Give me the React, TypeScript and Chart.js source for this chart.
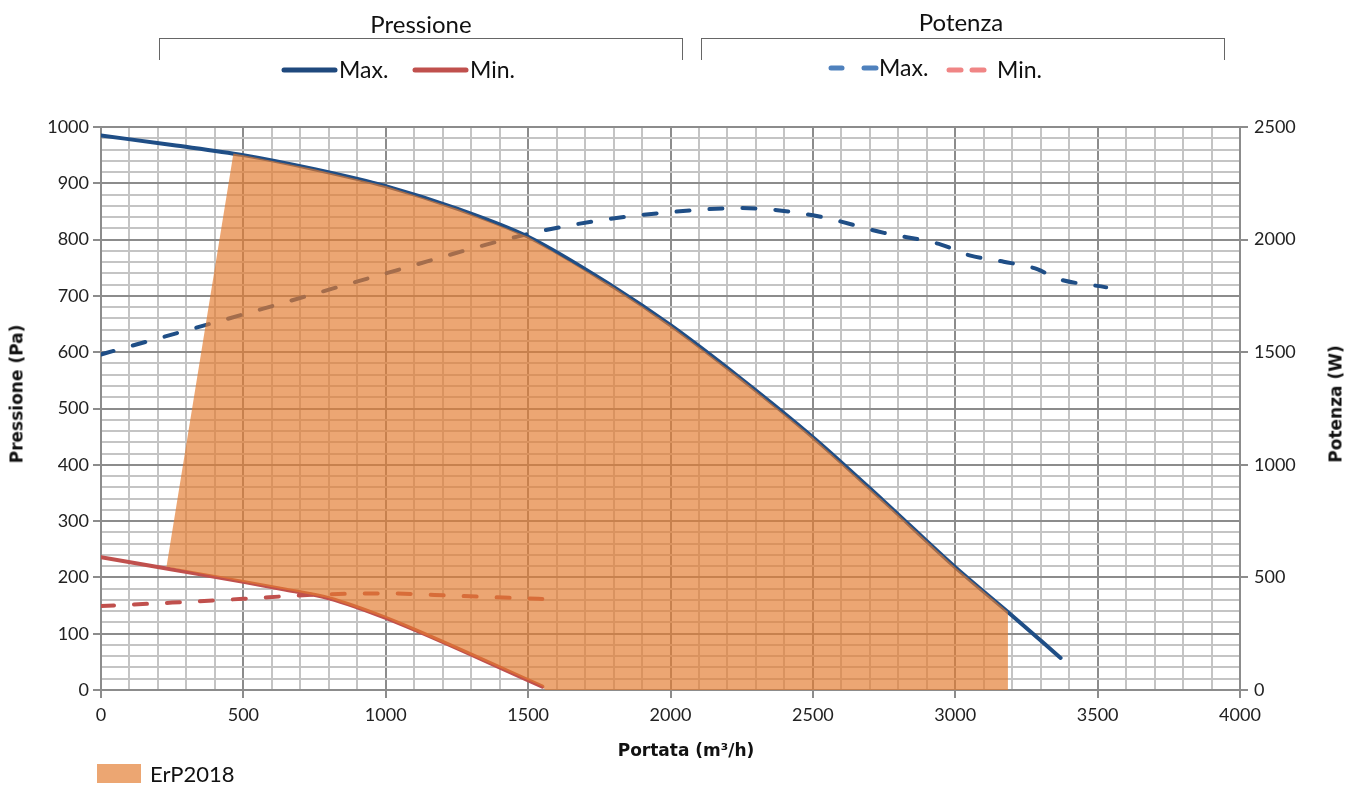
import React, { useEffect, useRef } from 'react';
import { Chart, registerables } from 'chart.js';
Chart.register(...registerables);

// ---- data ----
const flowMaxP = [0, 250, 500, 750, 1000, 1250, 1500, 1800, 2000, 2250, 2500, 2750, 3000, 3200, 3370];
const pressMax = [985, 968, 950, 925, 895, 855, 805, 716, 648, 552, 449, 335, 218, 132, 57];
const flowMinP = [0, 250, 500, 650, 800, 1000, 1550];
const pressMin = [236, 214, 192, 178, 163, 128, 6];
const flowMaxW = [0, 500, 1000, 1500, 1750, 2000, 2250, 2500, 2750, 2950, 3050, 3170, 3290, 3350, 3530];
const powerMax = [1490, 1668, 1850, 2025, 2085, 2122, 2140, 2108, 2030, 1978, 1930, 1902, 1868, 1830, 1788];
const flowMinW = [0, 250, 500, 750, 1000, 1250, 1550];
const powerMin = [373, 388, 405, 423, 429, 418, 404];
const erpFlow = [230, 465, 500, 750, 1000, 1250, 1500, 1800, 2000, 2250, 2500, 2750, 3000, 3185, 3185, 1560, 1550, 1000, 800, 650, 500, 230];
const erpPress = [219, 953, 950, 925, 895, 855, 805, 716, 648, 552, 449, 335, 218, 139, 0, 0, 6, 128, 163, 178, 192, 219];

const xTicksMajor = 500;
const yTicksMajor = 100;

const pts = (xs: number[], ys: number[]) => xs.map((x, i) => ({ x, y: ys[i] }));

const FONT = 'Lato, "DejaVu Sans", sans-serif';
const TITLE_FONT = '"DejaVu Sans", Lato, sans-serif';
const MAJOR = '#8c8c8c';
const MINOR = '#c4c4c4';
const DARKBLUE = '#1F4E86';
const RED = '#C0504D';

export default function App() {
  const ref = useRef<HTMLCanvasElement>(null);
  useEffect(() => {
    const ctx = ref.current!;
    const chart = new Chart(ctx, {
      type: 'scatter',
      data: {
        datasets: [
          {
            label: 'ErP2018',
            data: pts(erpFlow, erpPress),
            showLine: true,
            fill: 'shape',
            backgroundColor: 'rgba(227,124,48,0.68)',
            borderWidth: 0,
            borderColor: 'rgba(0,0,0,0)',
            pointRadius: 0,
            tension: 0,
            yAxisID: 'y',
          },
          {
            label: 'Pressione Max.',
            data: pts(flowMaxP, pressMax),
            showLine: true,
            borderColor: DARKBLUE,
            borderWidth: 4,
            pointRadius: 0,
            cubicInterpolationMode: 'monotone',
            borderCapStyle: 'round',
            yAxisID: 'y',
          },
          {
            label: 'Pressione Min.',
            data: pts(flowMinP, pressMin),
            showLine: true,
            borderColor: RED,
            borderWidth: 4,
            pointRadius: 0,
            cubicInterpolationMode: 'monotone',
            borderCapStyle: 'round',
            yAxisID: 'y',
          },
          {
            label: 'Potenza Max.',
            data: pts(flowMaxW, powerMax),
            showLine: true,
            borderColor: DARKBLUE,
            borderWidth: 4,
            borderDash: [13, 20],
            borderCapStyle: 'round',
            pointRadius: 0,
            cubicInterpolationMode: 'monotone',
            yAxisID: 'y1',
          },
          {
            label: 'Potenza Min.',
            data: pts(flowMinW, powerMin),
            showLine: true,
            borderColor: RED,
            borderWidth: 4,
            borderDash: [13, 20],
            borderCapStyle: 'round',
            pointRadius: 0,
            cubicInterpolationMode: 'monotone',
            yAxisID: 'y1',
          },
        ],
      },
      options: {
        responsive: false,
        animation: false,
        layout: { padding: { top: 127, left: 0, right: 0, bottom: 0 } },
        plugins: { legend: { display: false }, tooltip: { enabled: false } },
        scales: {
          x: {
            type: 'linear',
            min: 0,
            max: 4000,
            afterFit: (s: any) => { s.height = 97; },
            ticks: {
              stepSize: 100,
              autoSkip: false,
              maxRotation: 0,
              padding: 6,
              color: '#222',
              font: { family: FONT, size: 18 },
              callback: (v: any) => (Number(v) % xTicksMajor === 0 ? String(v) : ''),
            },
            grid: {
              color: (c: any) => (c.tick && c.tick.value % xTicksMajor === 0 ? MAJOR : MINOR),
              lineWidth: 2,
              tickLength: 8,
              tickColor: (c: any) => (c.tick && c.tick.value % xTicksMajor === 0 ? MAJOR : 'rgba(0,0,0,0)'),
            },
            border: { color: MAJOR, width: 2 },
          },
          y: {
            type: 'linear',
            position: 'left',
            min: 0,
            max: 1000,
            afterFit: (s: any) => { s.width = 101; },
            ticks: {
              stepSize: 20,
              autoSkip: false,
              padding: 4,
              color: '#222',
              font: { family: FONT, size: 18 },
              callback: (v: any) => (Number(v) % yTicksMajor === 0 ? String(v) : ''),
            },
            grid: {
              color: (c: any) => (c.tick && c.tick.value % yTicksMajor === 0 ? MAJOR : MINOR),
              lineWidth: 2,
              tickLength: 8,
              tickColor: (c: any) => (c.tick && c.tick.value % yTicksMajor === 0 ? MAJOR : 'rgba(0,0,0,0)'),
            },
            border: { color: MAJOR, width: 2 },
          },
          y1: {
            type: 'linear',
            position: 'right',
            min: 0,
            max: 2500,
            afterFit: (s: any) => { s.width = 120; },
            ticks: {
              stepSize: 500,
              padding: 6,
              color: '#222',
              font: { family: FONT, size: 18 },
              callback: (v: any) => String(v),
            },
            grid: {
              drawOnChartArea: false,
              tickLength: 8,
              tickColor: MAJOR,
              lineWidth: 2,
            },
            border: { color: MAJOR, width: 2 },
          },
        },
      },
    } as any);
    return () => chart.destroy();
  }, []);

  const text = (s: string, left: number, top: number, size: number, extra: any = {}) => (
    <div
      style={{
        position: 'absolute',
        left,
        top,
        fontFamily: FONT,
        fontSize: size,
        lineHeight: `${size}px`,
        color: '#111',
        whiteSpace: 'nowrap',
        ...extra,
      }}
    >
      {s}
    </div>
  );

  return (
    <div style={{ position: 'fixed', left: 0, top: 0, width: 1360, height: 787, background: '#fff', overflow: 'hidden' }}>
      <canvas ref={ref} width={1360} height={787} style={{ position: 'absolute', left: 0, top: 0, width: 1360, height: 787 }} />

      {/* group headers */}
      {text('Pressione', 421, 12, 24, { transform: 'translateX(-50%)' })}
      {text('Potenza', 961, 10, 24, { transform: 'translateX(-50%)' })}
      <div style={{ position: 'absolute', left: 159, top: 38, width: 522, height: 21, borderTop: '1px solid #666', borderLeft: '1px solid #666', borderRight: '1px solid #666' }} />
      <div style={{ position: 'absolute', left: 701, top: 38, width: 522, height: 21, borderTop: '1px solid #666', borderLeft: '1px solid #666', borderRight: '1px solid #666' }} />

      {/* legend markers */}
      <svg width={1360} height={100} style={{ position: 'absolute', left: 0, top: 0 }}>
        <line x1={284} y1={70} x2={335} y2={70} stroke="#1F497D" strokeWidth={5} strokeLinecap="round" />
        <line x1={415} y1={70} x2={466} y2={70} stroke={RED} strokeWidth={5} strokeLinecap="round" />
        <line x1={831} y1={68} x2={842} y2={68} stroke="#4F81BD" strokeWidth={5} strokeLinecap="round" />
        <line x1={864} y1={68} x2={876} y2={68} stroke="#4F81BD" strokeWidth={5} strokeLinecap="round" />
        <line x1={949} y1={70} x2={961} y2={70} stroke="#F08585" strokeWidth={5} strokeLinecap="round" />
        <line x1={972} y1={70} x2={984} y2={70} stroke="#F08585" strokeWidth={5} strokeLinecap="round" />
      </svg>
      {text('Max.', 339, 58, 23)}
      {text('Min.', 470, 58, 23)}
      {text('Max.', 879, 56, 23)}
      {text('Min.', 997, 58, 23)}

      {/* axis titles */}
      {text('Pressione (Pa)', 17, 394, 17, { fontFamily: TITLE_FONT, fontWeight: 700, transform: 'translate(-50%,-50%) rotate(-90deg)' })}
      {text('Potenza (W)', 1336, 404, 17, { fontFamily: TITLE_FONT, fontWeight: 700, transform: 'translate(-50%,-50%) rotate(-90deg)' })}
      {text('Portata (m³/h)', 686, 750, 17, { fontFamily: TITLE_FONT, fontWeight: 700, transform: 'translate(-50%,-50%)' })}

      {/* bottom legend */}
      <div style={{ position: 'absolute', left: 97, top: 764, width: 44, height: 19, background: '#ECA672' }} />
      {text('ErP2018', 150, 763, 22)}
    </div>
  );
}
